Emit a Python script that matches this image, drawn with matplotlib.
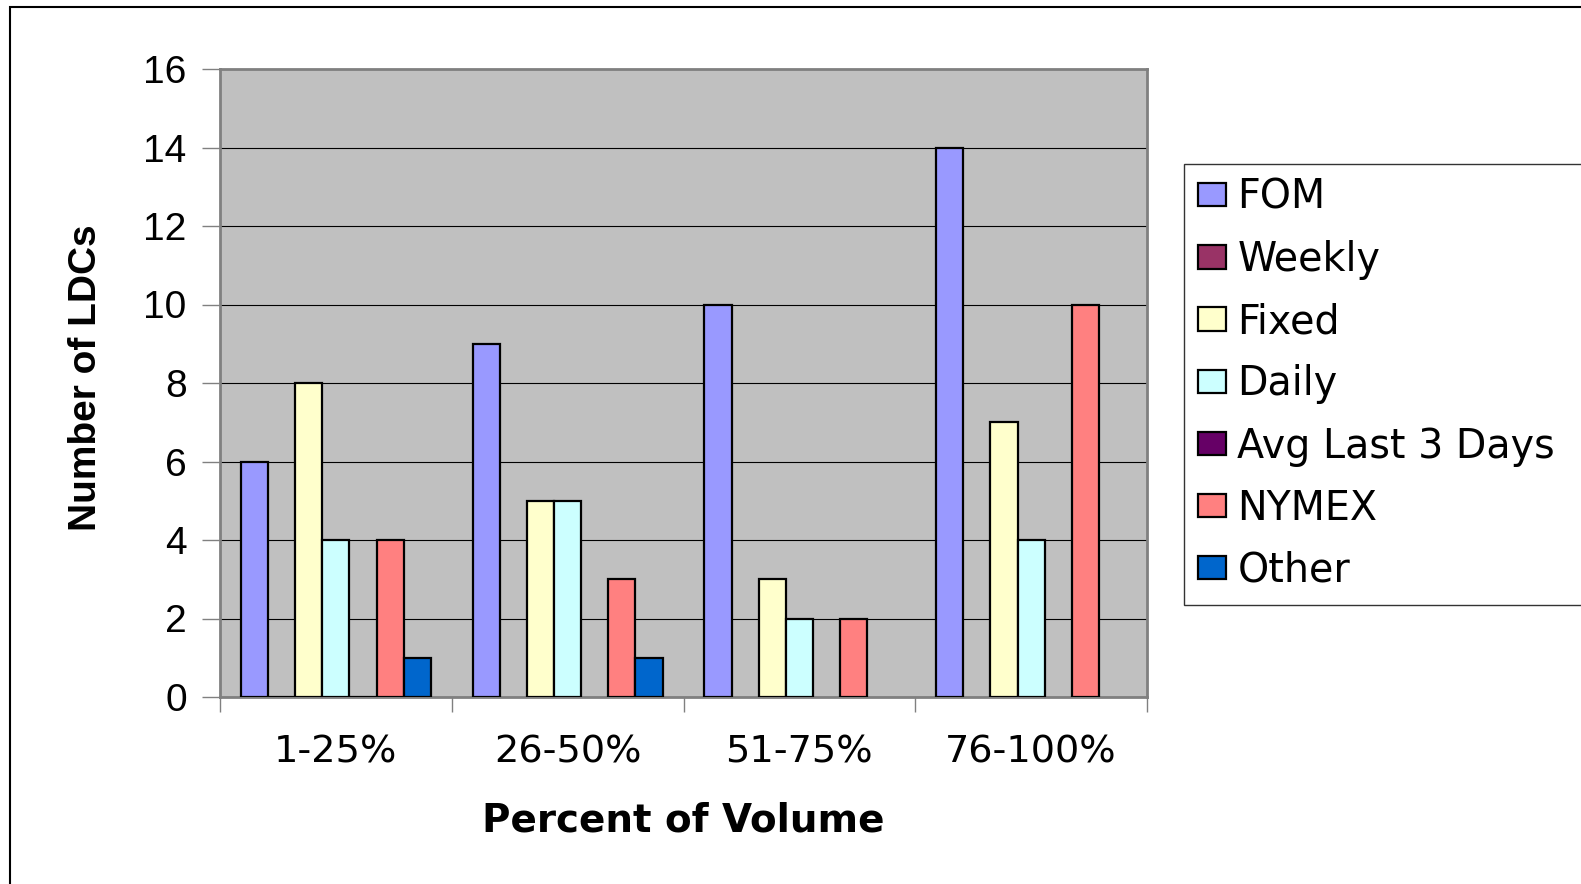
import numpy as np
import matplotlib
matplotlib.use("Agg")
import matplotlib.pyplot as plt
from matplotlib.patches import Rectangle

# number of LDCs per pricing method, by share of volume
categories = ["1-25%", "26-50%", "51-75%", "76-100%"]
series = ["FOM", "Weekly", "Fixed", "Daily", "Avg Last 3 Days", "NYMEX", "Other"]
fom = [6, 9, 10, 14]
weekly = [0, 0, 0, 0]
fixed = [8, 5, 3, 7]
daily = [4, 5, 2, 4]
avg_last_3 = [0, 0, 0, 0]
nymex = [4, 3, 2, 10]
other = [1, 1, 0, 0]
values = [fom, weekly, fixed, daily, avg_last_3, nymex, other]
colors = ["#9999FF", "#993366", "#FFFFCC", "#CCFFFF", "#660066", "#FF8080", "#0066CC"]

plt.rcParams["font.family"] = ["Liberation Sans", "DejaVu Sans"]
wide = ["DejaVu Sans"]

W, H = 1581, 884
fig = plt.figure(figsize=(W / 100, H / 100), dpi=100)

# plot area in pixels: left 220, right 1147, top 69, bottom 697
ax = fig.add_axes([220 / W, 1 - 697 / H, (1147 - 220) / W, (697 - 69) / H])
ax.set_facecolor("#C0C0C0")

x = np.arange(len(categories))
w = 0.117
for j, (name, vals, col) in enumerate(zip(series, values, colors)):
    edges = ["black" if v > 0 else "none" for v in vals]
    ax.bar(x + (j - 3) * w, vals, w, color=col, edgecolor=edges,
           linewidth=1.6, label=name, zorder=3)

ax.set_xlim(-0.5, len(categories) - 0.5)
ax.set_ylim(0, 16)
ax.set_yticks(np.arange(0, 17, 2))
ax.yaxis.grid(True, color="#000000", linewidth=0.8, zorder=1)
ax.set_axisbelow(True)

ax.set_xticks(x)
ax.set_xticklabels(categories, family=wide)
ax.set_xticks(np.arange(-0.5, len(categories), 1), minor=True)
ax.tick_params(axis="x", which="major", length=0, pad=27, labelsize=27.5)
ax.tick_params(axis="x", which="minor", length=11, width=1, color="#808080")
ax.tick_params(axis="y", length=13, width=1, color="#808080", pad=11, labelsize=28)

for s in ax.spines.values():
    s.set_color("#808080")
    s.set_linewidth(2)

# axis titles
fig.text(683 / W, 1 - 820 / H, "Percent of Volume", ha="center", va="center",
         fontsize=28, fontweight="bold", family=wide)
fig.text(86 / W, 1 - 378 / H, "Number of LDCs", ha="center", va="center",
         rotation=90, fontsize=28, fontweight="bold")

# legend box runs off the right edge of the figure
handles, labels = ax.get_legend_handles_labels()
for h in handles:
    h.patches[0].set_edgecolor("black")
leg = fig.legend(handles, labels, loc="upper left",
                 bbox_to_anchor=(1184 / W, 1 - 164 / H, 0.3, 0), mode="expand",
                 prop={"family": wide, "size": 28.5}, frameon=True, fancybox=False,
                 handlelength=0.7, handleheight=0.53, handletextpad=0.3,
                 labelspacing=0.56, borderpad=0.35, borderaxespad=0)
leg.get_frame().set_edgecolor("black")
leg.get_frame().set_linewidth(1)

# outer chart border
fig.add_artist(Rectangle((10 / W, -0.1), 1.2, 1.1 - 7 / H, transform=fig.transFigure,
                         fill=False, edgecolor="black", linewidth=1.5))

fig.savefig("out.png", dpi=100)
